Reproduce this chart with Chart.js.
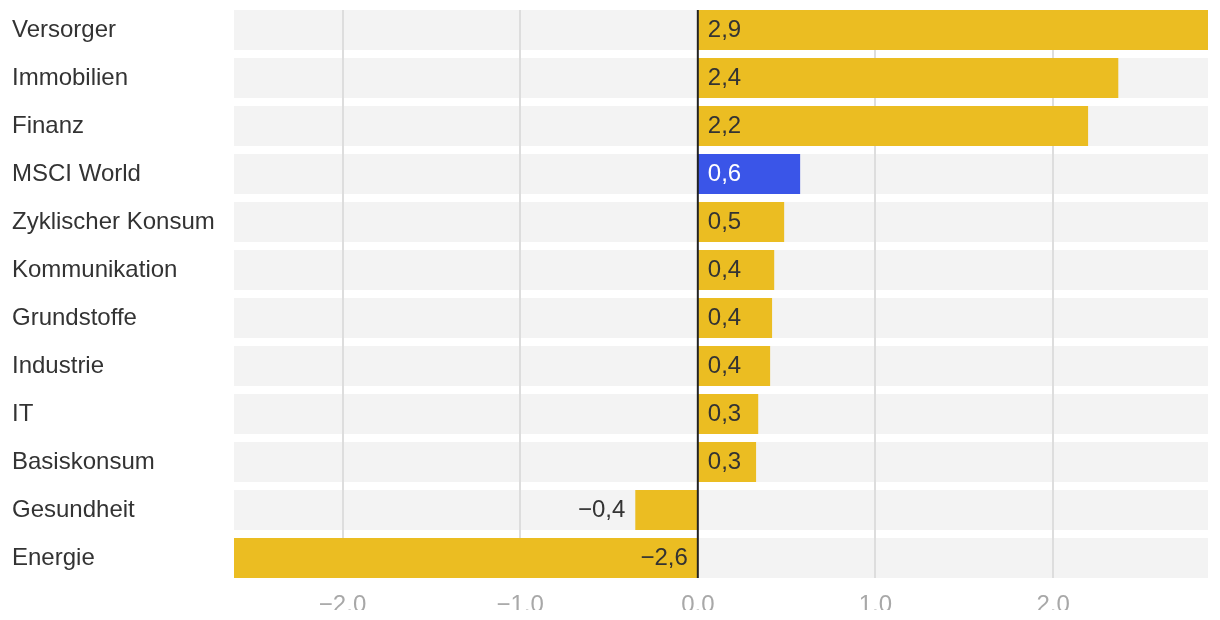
<!DOCTYPE html>
<html>
<head>
<meta charset="utf-8">
<script src="https://cdn.jsdelivr.net/npm/chart.js@4.4.1/dist/chart.umd.min.js"></script>
<style>
  html, body { margin: 0; padding: 0; background: #fff; }
  #wrap { width: 1220px; height: 610px; overflow: hidden; }
  #box { width: 1220px; height: 620px; }
</style>
</head>
<body>
<div id="wrap"><div id="box"><canvas id="myChart"></canvas></div></div>
<script>
const categories = ['Versorger', 'Immobilien', 'Finanz', 'MSCI World', 'Zyklischer Konsum',
  'Kommunikation', 'Grundstoffe', 'Industrie', 'IT', 'Basiskonsum', 'Gesundheit', 'Energie'];
const values = [2.872, 2.367, 2.197, 0.576, 0.486, 0.43, 0.418, 0.407, 0.34, 0.328, -0.352, -2.611];
const highlight = 'MSCI World';
const xMin = -2.611;
const xMax = 2.872;
const xTicks = [-2, -1, 0, 1, 2];

const YELLOW = '#ebbd22';
const BLUE = '#3a55e8';
const FONT = '"Liberation Sans", Arial, Helvetica, sans-serif';

function fmt(v) {
  const s = Math.abs(v).toFixed(1).replace('.', ',');
  return (v < 0 ? '\u2212' : '') + s;
}

// vertical grid lines, drawn over the grey bands but under the value bars
const gridPlugin = {
  id: 'gridBetween',
  afterDatasetDraw(chart, args) {
    if (args.index !== 1) return;
    const x = chart.scales.x;
    const els = args.meta.data;
    const top = els[0].y - els[0].height / 2;
    const bottom = els[els.length - 1].y + els[els.length - 1].height / 2;
    const ctx = chart.ctx;
    ctx.save();
    ctx.strokeStyle = '#dddddd';
    ctx.lineWidth = 2;
    xTicks.forEach((t) => {
      if (t === 0) return;
      const px = Math.round(x.getPixelForValue(t));
      ctx.beginPath();
      ctx.moveTo(px, top);
      ctx.lineTo(px, bottom);
      ctx.stroke();
    });
    ctx.restore();
  },
  afterDatasetsDraw(chart) {
    const x = chart.scales.x;
    const els = chart.getDatasetMeta(1).data;
    const top = els[0].y - els[0].height / 2;
    const bottom = els[els.length - 1].y + els[els.length - 1].height / 2;
    const ctx = chart.ctx;
    const zero = x.getPixelForValue(0);

    ctx.save();
    ctx.strokeStyle = '#222';
    ctx.lineWidth = 2;
    ctx.beginPath();
    ctx.moveTo(zero, top);
    ctx.lineTo(zero, bottom);
    ctx.stroke();

    // value labels
    ctx.font = `24px ${FONT}`;
    ctx.textBaseline = 'alphabetic';
    chart.getDatasetMeta(0).data.forEach((bar, i) => {
      const v = values[i];
      const y = bar.y + 6.5;
      ctx.fillStyle = categories[i] === highlight ? '#fff' : '#333';
      if (v >= 0) {
        ctx.textAlign = 'left';
        ctx.fillText(fmt(v), zero + 10, y);
      } else if (v < -1) {
        ctx.textAlign = 'right';
        ctx.fillText(fmt(v), zero - 10, y);
      } else {
        ctx.textAlign = 'right';
        ctx.fillText(fmt(v), x.getPixelForValue(v) - 10, y);
      }
    });
    ctx.restore();
  },
};

const chart = new Chart(document.getElementById('myChart'), {
  type: 'bar',
  data: {
    labels: categories,
    datasets: [{
      label: 'Wert',
      data: values,
      backgroundColor: categories.map((c) => (c === highlight ? BLUE : YELLOW)),
      grouped: false,
      order: 1,
      barPercentage: 1,
      categoryPercentage: 40 / 48,
    }, {
      label: 'Hintergrund',
      data: categories.map(() => [xMin, xMax]),
      backgroundColor: '#f3f3f3',
      grouped: false,
      order: 2,
      barPercentage: 1,
      categoryPercentage: 40 / 48,
    }],
  },
  options: {
    indexAxis: 'y',
    responsive: true,
    maintainAspectRatio: false,
    animation: false,
    layout: { padding: { left: 12, right: 12, top: 6, bottom: 0 } },
    plugins: { legend: { display: false }, tooltip: { enabled: false } },
    scales: {
      x: {
        min: xMin,
        max: xMax,
        grid: { display: false, drawTicks: false },
        border: { display: false },
        afterBuildTicks: (scale) => {
          scale.ticks = xTicks.map((v) => ({ value: v }));
        },
        afterFit: (scale) => {
          scale.height = 38;
          scale.paddingLeft = 0;
          scale.paddingRight = 0;
        },
        ticks: {
          padding: 9,
          color: '#a8a8a8',
          font: { size: 24, family: FONT },
          callback: (v) => fmt(v),
        },
      },
      y: {
        grid: { display: false, drawTicks: false },
        border: { display: false },
        afterFit: (scale) => {
          scale.width = 222;
          scale.paddingTop = 0;
          scale.paddingBottom = 0;
        },
        ticks: {
          crossAlign: 'far',
          color: '#333',
          font: { size: 24, family: FONT },
        },
      },
    },
  },
  plugins: [gridPlugin],
});
</script>
</body>
</html>
